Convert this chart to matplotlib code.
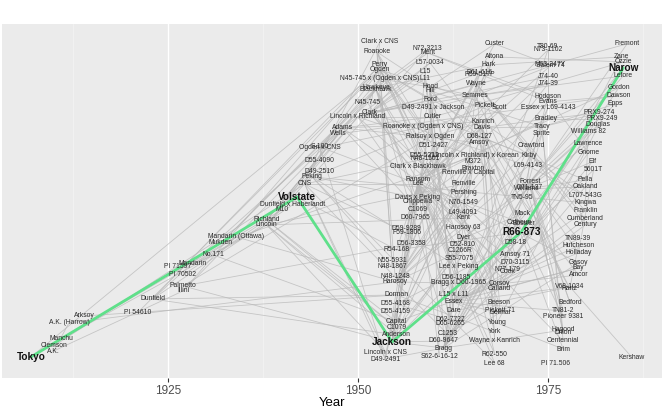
import matplotlib
matplotlib.use("Agg")
import matplotlib.pyplot as plt

# ---------------- data ----------------
node_names = [
    "Tokyo", "A.K.", "Clemson", "Manchu", "A.K. (Harrow)", "Arksoy", "PI 54610", "Dunfield",
    "Palmetto", "Illini", "PI 70502", "PI 71597", "Mandarin", "No.171", "Mukden",
    "Mandarin (Ottawa)", "Richland", "Lincoln", "M10", "Dunfield x Haberlandt", "Volstate",
    "CNS", "Peking", "D49-2510", "D55-4090", "Ogden x CNS", "S-100", "Wells", "Adams",
    "Lincoln x Richland", "Clark", "N45-745", "Clark x CNS", "Roanoke", "Perry", "Ogden",
    "N45-745 x (Ogden x CNS)", "Hawkeye", "Blackhawk", "N72-3213", "Merit", "L57-0034",
    "L15", "L11", "Hood", "Hill", "Ford", "D49-2491 x Jackson", "Cutler",
    "Roanoke x (Ogden x CNS)", "Ralsoy x Ogden", "D51-2427", "D55-5212", "N48-1101",
    "Clark x Blackhawk", "Ransom", "Lee", "Davis x Peking", "Chippewa", "C1069", "D60-7965",
    "D59-9289", "F59-1806", "D56-3358", "R54-168", "N55-5931", "N48-1867", "N48-1248",
    "Harosoy", "Dorman", "D55-4168", "D55-4159", "Capital", "C1079", "Anderson", "Jackson",
    "Lincoln x CNS", "D49-2491",
    "(Lincoln x Richland) x Korean", "M372", "Braxton", "Renville x Capital", "Renville",
    "Pershing", "N70-1549", "L49-4091", "Kent", "Harosoy 63", "Dyer", "D52-810", "C1266R",
    "S55-7075", "Lee x Peking", "D56-1185", "Bragg x D60-1965", "L15 x L11", "Essex", "Dare",
    "D62-7727", "D65-6265", "C1253", "D60-9647", "Bragg", "S62-6-16-12",
    "Custer", "Altona", "Hark", "D61-616", "R59-517P", "Wayne", "Semmes", "Pickett", "Scott",
    "Kanrich", "Davis", "D68-127", "Amsoy",
    "Young", "York", "Wayne x Kanrich", "R62-550", "Lee 68", "Beeson", "Pickett 71", "Delmar",
    "Corsoy", "Calland", "Cook", "N77-179", "D70-3115", "Amsoy 71", "D58-18", "R66-873",
    "Calhoun", "Bossier", "Mack", "TN5-95", "Williams", "D71-137", "Forrest", "L69-4143",
    "Kirby", "Crawford", "Tracy", "Sprite", "Bradley", "Essex x L69-4143", "Evans", "Hodgson",
    "J74-39", "J74-40", "M63-247Y", "Salem 74", "T80-69", "N73-1102",
    "Fremont", "Zane", "Ozzie", "Narow", "Lefore", "Gordon", "Dawson", "Epps", "PRX9-274",
    "PRX9-249", "Douglas", "Williams 82", "Lawrence", "Gnome", "Elf", "5601T", "Pella",
    "Oakland", "L707-543G", "Kingwa", "Franklin", "Cumberland", "Century", "TN89-39",
    "Hutcheson", "Holladay", "Gasoy", "Bay", "Amcor", "V68-1034", "Hartz", "Bedford",
    "TN81-2", "Pioneer 9381", "Hagood", "Dillon", "Centennial", "Brim", "PI 71.506", "Kershaw",
]

node_years = [
    1907, 1910, 1910, 1911, 1912, 1914, 1921, 1923,
    1927, 1927, 1927, 1926.3, 1928.3, 1931, 1932,
    1934, 1938, 1938, 1940, 1941.4, 1942,
    1943, 1944, 1945, 1945, 1945, 1945, 1947.4, 1948,
    1950, 1951.6, 1951.3, 1952.9, 1952.5, 1952.9, 1952.9,
    1952.9, 1952.4, 1952.4, 1959.2, 1959.2, 1959.5,
    1958.8, 1958.8, 1959.5, 1959.5, 1959.5, 1959.9, 1959.9,
    1958.6, 1959.5, 1959.9, 1958.8, 1958.8,
    1957.9, 1957.9, 1957.9, 1957.9, 1957.9, 1957.9, 1957.6,
    1956.4, 1956.4, 1957.0, 1955.1, 1954.5, 1954.5, 1954.9,
    1954.9, 1955.1, 1955.0, 1955.0, 1955.1, 1955.1, 1955.1, 1954.5,
    1953.6, 1953.6,
    1965.3, 1965.1, 1965.1, 1964.5, 1963.9,
    1963.9, 1963.9, 1963.9, 1963.9, 1963.9, 1963.9, 1963.8, 1963.5,
    1963.3, 1963.2, 1962.9, 1963.2, 1962.6, 1962.6, 1962.6,
    1962.2, 1962.2, 1961.8, 1961.3, 1961.3, 1960.7,
    1968, 1968, 1967.2, 1966, 1966, 1965.6, 1965.4, 1966.7, 1968.6,
    1966.4, 1966.3, 1966, 1966,
    1968.3, 1968, 1968, 1968, 1968, 1968.6, 1968.7, 1968.7,
    1968.6, 1968.6, 1969.7, 1969.7, 1970.7, 1970.7, 1970.7, 1971.5,
    1971.2, 1971.8, 1971.6, 1971.6, 1972.2, 1972.6, 1972.6, 1972.4,
    1972.6, 1972.8, 1974.2, 1974.2, 1974.8, 1975, 1975, 1975,
    1975, 1975, 1975.3, 1975.3, 1975, 1975,
    1985.4, 1984.7, 1984.9, 1984.9, 1984.9, 1984.3, 1984.3, 1983.9, 1981.8,
    1982.1, 1981.6, 1980.3, 1980.3, 1980.3, 1980.8, 1981, 1979.9,
    1979.9, 1979.9, 1979.9, 1979.9, 1979.9, 1979.9, 1979,
    1979, 1979, 1979, 1979, 1979, 1977.9, 1977.9, 1977.9,
    1977, 1977, 1977, 1977, 1977, 1977, 1976, 1986,
]

# vertical placement (pedigree layout rows, 0 = bottom of panel)
node_ypos = [
    21, 27, 32, 39, 55, 62, 65, 79,
    92, 87, 103, 111, 114, 123, 135,
    141, 158, 153, 168, 173, 181,
    194, 201, 206, 217, 230, 231, 244, 250,
    261, 265, 275, 336, 326, 313, 308,
    299, 290, 288, 329, 325, 315,
    306, 299, 291, 287, 278, 270, 261,
    251, 241, 232, 222, 219,
    211, 198, 194, 180, 176, 168, 160,
    149, 145, 134, 128, 117, 111, 101,
    96, 83, 74, 66, 56, 50, 43, 36,
    26, 19,
    222, 216, 209, 205, 194,
    185, 175, 165, 160, 150, 140, 133, 127,
    119, 111, 100, 95, 83, 76, 67,
    58, 54, 44, 37, 30, 22,
    334, 321, 313, 305, 303, 294, 282, 272, 270,
    256, 250, 241, 235,
    55, 46, 37, 24, 15, 75, 67, 65,
    94, 89, 106, 108, 115, 123, 135, 146,
    155, 154, 164, 180, 189, 190, 196, 212,
    222, 232, 251, 244, 259, 270, 276, 281,
    294, 301, 313, 312, 331, 328,
    334, 321, 316, 310, 302, 290, 282, 274, 265,
    259, 253, 246, 234, 225, 216, 208, 198,
    191, 182, 175, 167, 159, 153, 139,
    132, 125, 115, 110, 103, 91, 89, 75,
    67, 61, 48, 45, 37, 29, 15, 21,
]

path_nodes = ["Tokyo", "Volstate", "Jackson", "R66-873", "Narow"]

edge_child = []
edge_parent = []
parents = {
    "A.K. (Harrow)": ["A.K."], "Illini": ["A.K."], "Richland": ["PI 70502"],
    "Lincoln": ["Mandarin", "Manchu"], "Mandarin (Ottawa)": ["Mandarin"], "No.171": ["Mandarin"],
    "M10": ["Manchu"], "Volstate": ["Tokyo", "Dunfield x Haberlandt"],
    "Dunfield x Haberlandt": ["Dunfield"], "CNS": ["Clemson"], "Ogden": ["Tokyo", "PI 54610"],
    "Adams": ["Illini", "Dunfield"], "Wells": ["Lincoln", "Richland"],
    "Lincoln x Richland": ["Lincoln", "Richland"], "Clark": ["Lincoln x Richland", "Lincoln"],
    "Hawkeye": ["Mukden", "Richland"], "Blackhawk": ["Mukden", "Richland"],
    "Harosoy": ["Mandarin (Ottawa)", "A.K. (Harrow)"], "Capital": ["No.171", "Richland"],
    "Dorman": ["Dunfield", "Arksoy"], "Jackson": ["Volstate", "Palmetto"],
    "D49-2491": ["S-100", "CNS"], "Lincoln x CNS": ["Lincoln", "CNS"], "Lee": ["S-100", "CNS"],
    "Roanoke": ["Ogden"], "Perry": ["Dunfield", "Illini"], "Clark x CNS": ["Clark", "CNS"],
    "Ogden x CNS": ["Ogden", "CNS"], "N45-745": ["Ogden x CNS"],
    "N45-745 x (Ogden x CNS)": ["N45-745", "Ogden x CNS"],
    "Hood": ["Roanoke", "N45-745 x (Ogden x CNS)"],
    "Hill": ["Roanoke x (Ogden x CNS)", "Ralsoy x Ogden"], "Ford": ["Lincoln x Richland", "Ogden"],
    "Merit": ["Blackhawk", "Capital"], "N72-3213": ["Clark", "Hawkeye"],
    "L57-0034": ["Clark", "Adams"], "L15": ["Clark"], "L11": ["Clark"],
    "Cutler": ["Adams", "Lincoln x Richland"], "D49-2491 x Jackson": ["D49-2491", "Jackson"],
    "Roanoke x (Ogden x CNS)": ["Roanoke", "Ogden x CNS"], "Ralsoy x Ogden": ["Ogden", "Palmetto"],
    "D51-2427": ["Ogden", "Lee"], "D55-5212": ["Jackson", "Roanoke"], "N48-1101": ["Ogden", "CNS"],
    "Clark x Blackhawk": ["Clark", "Blackhawk"], "Ransom": ["Jackson", "N45-745"],
    "Davis x Peking": ["Davis", "Peking"], "Chippewa": ["Lincoln x Richland", "Blackhawk"],
    "C1069": ["Adams", "Hawkeye"], "D60-7965": ["Lee", "Jackson"], "D59-9289": ["Lee", "D49-2491"],
    "F59-1806": ["CNS", "Lee"], "D56-3358": ["Lee", "Palmetto"], "R54-168": ["Lee", "Volstate"],
    "N55-5931": ["N48-1867", "Roanoke"], "N48-1867": ["Ogden", "Peking"],
    "N48-1248": ["Ogden", "CNS"], "D55-4168": ["Lee", "Jackson"], "D55-4159": ["Jackson", "D49-2491"],
    "C1079": ["Lincoln", "Richland"], "Anderson": ["Lincoln", "Dunfield"],
    "Essex": ["Lee", "S55-7075"], "S55-7075": ["Lee", "Roanoke"], "Lee x Peking": ["Lee", "Peking"],
    "Dyer": ["Lee", "Jackson"], "D52-810": ["Jackson", "Ogden"], "C1266R": ["Harosoy", "C1079"],
    "Harosoy 63": ["Harosoy", "Blackhawk"], "Kent": ["Lincoln", "Ogden"],
    "L49-4091": ["Lincoln x Richland", "Adams"], "N70-1549": ["Davis", "Bragg"],
    "Pershing": ["Harosoy", "Kent"], "Renville": ["Lincoln", "Capital"],
    "Renville x Capital": ["Renville", "Capital"], "Braxton": ["Jackson", "Bragg"],
    "M372": ["Harosoy", "Chippewa"], "(Lincoln x Richland) x Korean": ["Lincoln x Richland", "Mukden"],
    "Hark": ["Hawkeye", "Harosoy"], "Custer": ["Lee", "Hood"], "Altona": ["Harosoy", "Chippewa"],
    "D61-616": ["Hill", "Lee"], "R59-517P": ["Lee", "Jackson"], "Wayne": ["L49-4091", "Clark"],
    "Semmes": ["D49-2491 x Jackson", "Hood"], "Pickett": ["Lee", "Peking"], "Scott": ["Lee", "Ogden"],
    "Kanrich": ["Ralsoy x Ogden", "Adams"], "Davis": ["Ogden", "Lee"], "D68-127": ["Hill", "Lee"],
    "Amsoy": ["Adams", "Harosoy"], "L15 x L11": ["L15", "L11"], "D56-1185": ["Jackson", "Lee"],
    "Bragg x D60-1965": ["Bragg", "D60-9647"], "Dare": ["Hill", "Hood"],
    "D62-7727": ["Lee", "D55-4168"], "D65-6265": ["Bragg", "Lee"], "C1253": ["Blackhawk", "Harosoy"],
    "D60-9647": ["Jackson", "Hill"], "Bragg": ["Jackson", "D49-2491"], "S62-6-16-12": ["Lee", "Hood"],
    "Young": ["Davis", "Essex"], "York": ["Dorman", "Hill"], "Wayne x Kanrich": ["Wayne", "Kanrich"],
    "R62-550": ["Lee", "Hill"], "Lee 68": ["Lee", "Peking"], "Beeson": ["C1253", "Kent"],
    "Pickett 71": ["Pickett", "Dyer"], "Delmar": ["Lee", "Essex"], "Corsoy": ["Harosoy", "Capital"],
    "Calland": ["C1253", "Kent"], "Cook": ["Davis", "Essex"], "N77-179": ["Lee", "Ransom"],
    "D70-3115": ["Lee", "Bragg"], "Amsoy 71": ["Amsoy", "Clark"], "D58-18": ["Bragg", "D55-4168"],
    "R66-873": ["Jackson", "R54-168"], "Calhoun": ["Bragg", "Davis"], "Bossier": ["Lee", "Hood"],
    "Mack": ["Bragg", "Dyer"], "TN5-95": ["Essex", "Forrest"], "Williams": ["Wayne", "L57-0034"],
    "D71-137": ["Dyer", "Bragg"], "Forrest": ["Dyer", "Bragg"], "L69-4143": ["Clark", "Harosoy"],
    "Kirby": ["D68-127", "Bragg"], "Crawford": ["Williams", "Kent"], "Tracy": ["Davis", "Hill"],
    "Sprite": ["Essex", "Williams"], "Bradley": ["Davis", "Lee"],
    "Essex x L69-4143": ["Essex", "L69-4143"], "Evans": ["Merit", "Harosoy"],
    "Hodgson": ["Corsoy", "Merit"], "J74-39": ["Clark", "Harosoy"], "J74-40": ["Clark", "Amsoy"],
    "M63-247Y": ["Clark", "Custer"], "Salem 74": ["Lee", "Semmes"], "T80-69": ["Hodgson", "Evans"],
    "N73-1102": ["Ransom", "Bragg"], "Fremont": ["Williams", "M63-247Y"], "Zane": ["Hark", "Calland"],
    "Ozzie": ["Cutler", "Altona"], "Narow": ["R66-873", "Forrest"], "Lefore": ["Forrest", "Semmes"],
    "Gordon": ["Bragg", "Ransom"], "Dawson": ["Evans", "Wells"], "Epps": ["Forrest", "Tracy"],
    "PRX9-274": ["Bradley", "Tracy"], "PRX9-249": ["Bradley", "Young"], "Douglas": ["Williams", "Essex"],
    "Williams 82": ["Williams", "Kingwa"], "Lawrence": ["Amsoy 71", "Williams"],
    "Gnome": ["Amsoy 71", "Hodgson"], "Elf": ["Williams", "Amsoy 71"], "5601T": ["Essex", "Holladay"],
    "Pella": ["Williams", "Cutler"], "Oakland": ["Calland", "Williams"],
    "L707-543G": ["L69-4143", "Kanrich"], "Kingwa": ["Peking"], "Franklin": ["Wayne", "Essex"],
    "Cumberland": ["Corsoy", "Wayne"], "Century": ["Calland", "Wayne"], "TN89-39": ["Essex", "Forrest"],
    "Hutcheson": ["Essex", "V68-1034"], "Holladay": ["Essex", "Forrest"], "Gasoy": ["Bragg", "Ransom"],
    "Bay": ["Essex", "Calland"], "Amcor": ["Corsoy", "Amsoy"], "V68-1034": ["Essex", "Dare"],
    "Hartz": ["Davis", "Semmes"], "Bedford": ["Forrest", "D71-137"], "TN81-2": ["Essex", "Forrest"],
    "Pioneer 9381": ["Amsoy", "Williams"], "Hagood": ["Forrest", "Bragg"], "Dillon": ["Forrest", "Tracy"],
    "Centennial": ["Dyer", "Tracy"], "Brim": ["Young", "Davis"], "Kershaw": ["V68-1034"],
    "D55-4090": ["Ogden x CNS"], "D49-2510": ["CNS", "Peking"],
}
for c, ps in parents.items():
    for p in ps:
        edge_child.append(c)
        edge_parent.append(p)

x_ticks = [1925, 1950, 1975]
x_tick_labels = ["1925", "1950", "1975"]

# ---------------- plot ----------------
plt.rcParams["font.family"] = ["Liberation Sans", "DejaVu Sans"]
fig = plt.figure(figsize=(6.66, 4.12), dpi=100)
ax = fig.add_axes([0.003, 0.0825, 0.991, 0.8595])
ax.set_facecolor("#ebebeb")

pos = {n: (x, y) for n, x, y in zip(node_names, node_years, node_ypos)}

for x in [1912.5, 1937.5, 1962.5, 1987.5]:
    ax.axvline(x, color="#f5f5f5", lw=0.5, zorder=0)
for x in x_ticks:
    ax.axvline(x, color="white", lw=1.0, zorder=0)

for c, p in zip(edge_child, edge_parent):
    if c in pos and p in pos:
        (x1, y1), (x2, y2) = pos[p], pos[c]
        ax.plot([x1, x2], [y1, y2], color="#b8b8b8", lw=0.6, alpha=0.75, zorder=1)

px = [pos[n][0] for n in path_nodes]
py = [pos[n][1] for n in path_nodes]
ax.plot(px, py, color="#5fe08a", lw=2.0, zorder=2, solid_capstyle="round")

for n, x, y in zip(node_names, node_years, node_ypos):
    if n in path_nodes:
        ax.text(x, y, n, ha="center", va="center", fontsize=7.2, fontweight="bold",
                color="#111111", zorder=4)
    else:
        ax.text(x, y, n, ha="center", va="center", fontsize=4.9, color="#2a2a2a", zorder=3)

ax.set_xlim(1903.2, 1990.0)
ax.set_ylim(0, 354)
ax.set_xticks(x_ticks)
ax.set_xticklabels(x_tick_labels)
ax.set_yticks([])
ax.tick_params(axis="x", colors="#333333", labelcolor="#4d4d4d", labelsize=8.5,
               length=3, width=0.8, pad=2)
for s in ax.spines.values():
    s.set_visible(False)
ax.set_xlabel("Year", fontsize=9.5, labelpad=0)

fig.savefig("out.png", dpi=100)
